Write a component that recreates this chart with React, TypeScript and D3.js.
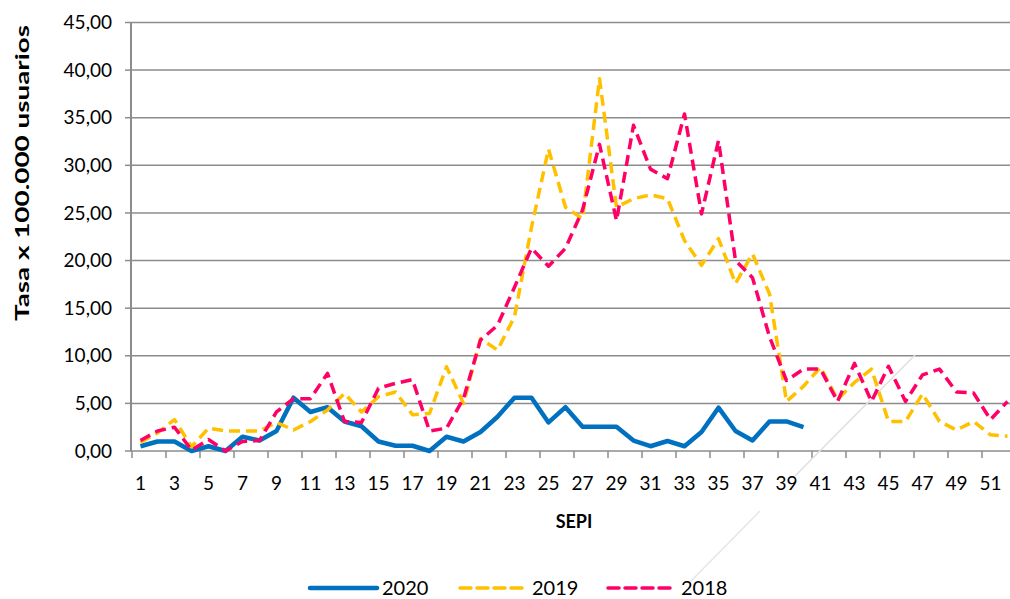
import React from "react";
import * as d3 from "d3";

const weeks: number[] = Array.from({ length: 52 }, (_, i) => i + 1);
const yTicks: number[] = [0, 5, 10, 15, 20, 25, 30, 35, 40, 45];

const s2020: number[] = [
  0.5, 1.0, 1.0, 0.0, 0.5, 0.0, 1.5, 1.1, 2.1, 5.6,
  4.1, 4.6, 3.1, 2.6, 1.0, 0.55, 0.55, 0.0, 1.5, 1.0,
  2.0, 3.6, 5.6, 5.6, 3.0, 4.6, 2.55, 2.55, 2.55, 1.1,
  0.5, 1.05, 0.5, 2.0, 4.55, 2.1, 1.1, 3.1, 3.1, 2.5,
];
const s2019: number[] = [
  0.9, 1.9, 3.3, 0.45, 2.4, 2.1, 2.1, 2.1, 3.0, 2.2,
  3.1, 4.3, 6.05, 4.1, 5.7, 6.2, 3.8, 3.95, 8.85, 5.0,
  11.8, 10.6, 14.1, 23.5, 31.7, 25.6, 24.4, 39.1, 25.6, 26.5,
  26.9, 26.5, 22.1, 19.5, 22.3, 17.6, 20.7, 16.5, 5.2, 6.8,
  8.8, 5.4, 7.2, 8.6, 3.1, 3.1, 6.0, 3.1, 2.2, 3.1,
  1.7, 1.55,
];
const s2018: number[] = [
  1.1, 2.1, 2.5, 0.1, 1.2, 0.0, 1.0, 1.1, 4.1, 5.5,
  5.5, 8.15, 3.1, 3.0, 6.6, 7.1, 7.5, 2.1, 2.4, 5.5,
  11.65, 13.2, 17.2, 21.3, 19.4, 21.3, 25.3, 32.2, 24.2, 34.2,
  29.6, 28.6, 35.4, 24.9, 32.6, 20.0, 18.2, 12.0, 7.4, 8.6,
  8.6, 5.2, 9.2, 5.2, 8.9, 5.2, 8.0, 8.6, 6.2, 6.1,
  3.3, 5.2,
];

const seriesNames = ["2020", "2019", "2018"];
const seriesColors = ["#0070C0", "#FFC000", "#FF0066"];

const FONT = "Lato, 'Open Sans', sans-serif";

export default function App() {
  const W = 1010;
  const H = 599;
  const x = d3.scaleBand<number>().domain(weeks).range([132, 132 + 17 * 52]).padding(0);
  const y = d3.scaleLinear().domain([0, 45]).range([451, 22.5]);
  const cx = (w: number) => (x(w) as number) + x.bandwidth() / 2;
  const line = d3
    .line<number>()
    .x((_, i) => cx(weeks[i]))
    .y((d) => y(d));

  const data = [s2020, s2019, s2018];
  const tickXs = d3.range(0, 53, 2).map((k) => 132 + x.bandwidth() * k);
  const legend = [
    { x1: 310, x2: 377, tx: 382 },
    { x1: 460, x2: 527, tx: 532 },
    { x1: 608, x2: 672, tx: 681 },
  ];

  return (
    <div style={{ position: "absolute", left: 0, top: 0 }}>
      <svg width={W} height={H} style={{ display: "block", background: "#fff" }}>
        {yTicks.map((t) => (
          <g key={t}>
            <line x1={132} x2={1016} y1={y(t)} y2={y(t)} stroke="#8c8c8c" strokeWidth={1.5} />
            <line x1={125} x2={132} y1={y(t)} y2={y(t)} stroke="#8c8c8c" strokeWidth={1.5} />
            <text x={112} y={y(t)} dy="0.35em" textAnchor="end" fontFamily={FONT} fontSize={19} fill="#000">
              {d3.format(".2f")(t).replace(".", ",")}
            </text>
          </g>
        ))}
        <line x1={131} x2={131} y1={y(45)} y2={y(0)} stroke="#8c8c8c" strokeWidth={2} />
        {tickXs.map((tx, i) => (
          <line key={i} x1={tx} x2={tx} y1={451} y2={458} stroke="#8c8c8c" strokeWidth={1.5} />
        ))}
        {weeks.filter((w) => w % 2 === 1).map((w) => (
          <text key={w} x={cx(w)} y={490} textAnchor="middle" fontFamily={FONT} fontSize={19} fill="#000">
            {w}
          </text>
        ))}
        <text x={574} y={528} textAnchor="middle" fontFamily={FONT} fontSize={18} fontWeight="bold">
          SEPI
        </text>
        <text
          transform={`translate(29,173) rotate(-90)`}
          textAnchor="middle"
          fontFamily={FONT}
          fontSize={19}
          fontWeight="bold"
          textLength={296}
          lengthAdjust="spacingAndGlyphs"
        >
          Tasa x 100.000 usuarios
        </text>
        <line x1={690} y1={582} x2={760} y2={511} stroke="#e6e6e6" strokeWidth={1.5} />
        <line x1={795} y1={476} x2={915} y2={355} stroke="#e0e0e0" strokeWidth={1.5} />
        {data.map((d, i) => (
          <path
            key={i}
            d={line(d) || ""}
            fill="none"
            stroke={seriesColors[i]}
            strokeWidth={i === 0 ? 4.5 : 3.5}
            strokeDasharray={i === 0 ? undefined : "11,6"}
            strokeLinejoin="round"
          />
        ))}
        {legend.map((l, i) => (
          <g key={i}>
            <line
              x1={l.x1}
              x2={l.x2}
              y1={588}
              y2={588}
              stroke={seriesColors[i]}
              strokeWidth={i === 0 ? 4.5 : 3.5}
              strokeDasharray={i === 0 ? undefined : "11,6"}
              strokeLinecap="round"
            />
            <text x={l.tx} y={588} dy="0.35em" fontFamily={FONT} fontSize={20}>
              {seriesNames[i]}
            </text>
          </g>
        ))}
      </svg>
    </div>
  );
}
